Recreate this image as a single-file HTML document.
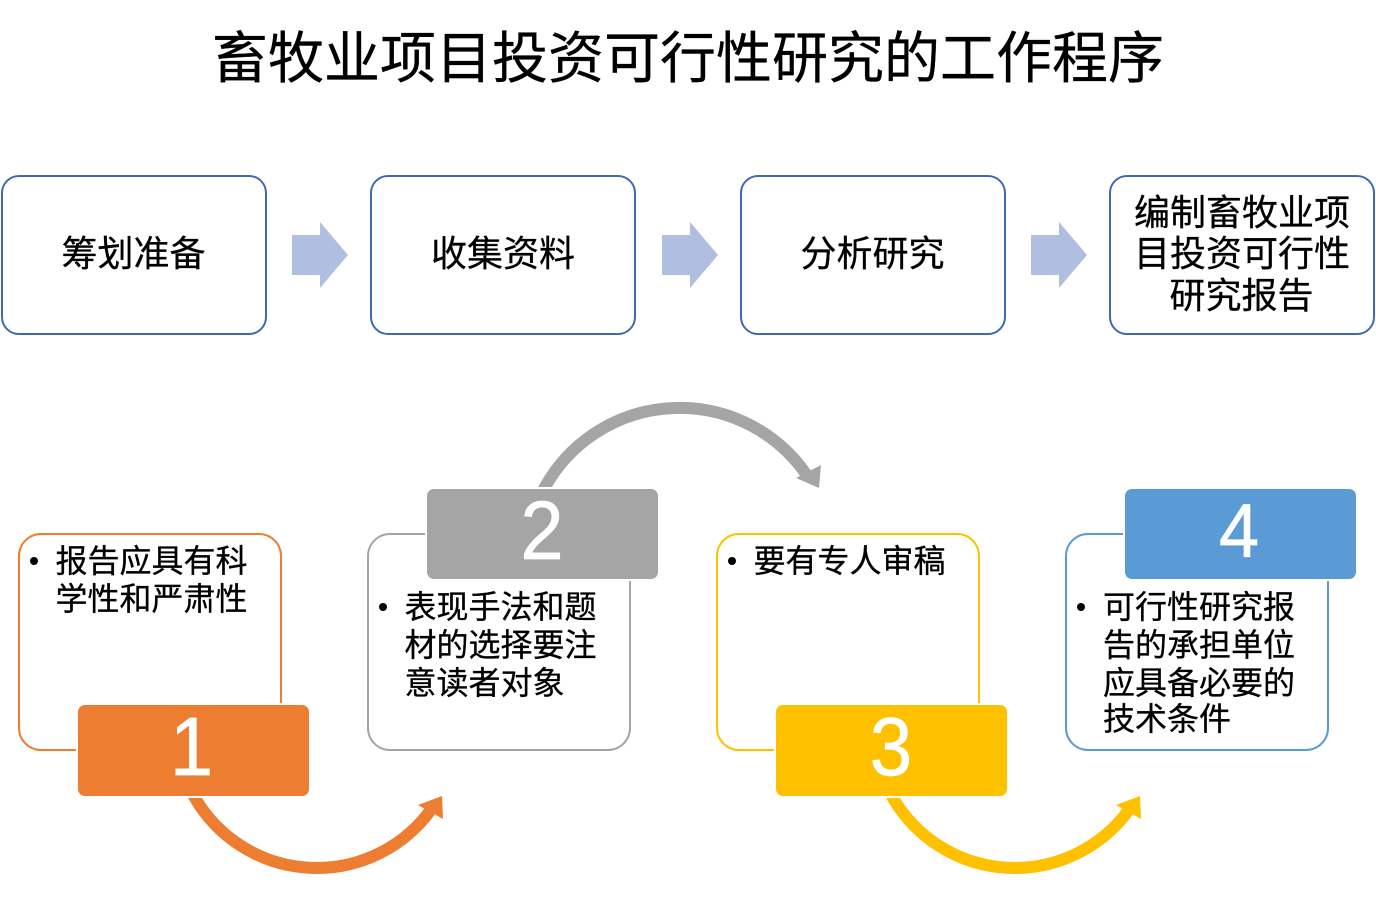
<!DOCTYPE html>
<html lang="zh">
<head>
<meta charset="utf-8">
<style>
html,body{margin:0;padding:0;background:#fff}
svg{display:block}
text{font-family:"Liberation Sans","Noto Sans CJK SC",sans-serif;fill:#000}
.t{font-size:36px;text-anchor:middle;stroke:#000;stroke-width:.3px}
.b{font-size:32px;stroke:#000;stroke-width:.3px}
.h{font-size:56px;text-anchor:middle;stroke:#000;stroke-width:.3px}
.n{font-size:72px;text-anchor:middle;fill:#fff;font-family:"Liberation Sans",sans-serif}
</style>
</head>
<body>
<svg width="1376" height="900" viewBox="0 0 1376 900" xmlns="http://www.w3.org/2000/svg">
<rect width="1376" height="900" fill="#fff"/>
<text class="h" x="688" y="78">畜牧业项目投资可行性研究的工作程序</text>

<g fill="#fff" stroke="#4069b5" stroke-width="2">
<rect x="2" y="176" width="264" height="158" rx="17"/>
<rect x="371" y="176" width="264" height="158" rx="17"/>
<rect x="741" y="176" width="264" height="158" rx="17"/>
<rect x="1110" y="176" width="264" height="158" rx="17"/>
</g>
<g fill="#b0bee0">
<polygon points="292,235 320,235 320,222 348,255 320,288 320,275 292,275"/>
<polygon points="662,235 690,235 690,222 718,255 690,288 690,275 662,275"/>
<polygon points="1031,235 1059,235 1059,222 1087,255 1059,288 1059,275 1031,275"/>
</g>
<text class="t" x="133.500" y="266">筹划准备</text>
<text class="t" x="503" y="266">收集资料</text>
<text class="t" x="872.500" y="266">分析研究</text>
<text class="t" x="1242" y="225">编制畜牧业项</text>
<text class="t" x="1242" y="266">目投资可行性</text>
<text class="t" x="1241.500" y="308">研究报告</text>

<g fill="#fff" stroke-width="2">
<rect x="19" y="534" width="262" height="216" rx="22" stroke="#ed7d31"/>
<rect x="368" y="534" width="262" height="216" rx="22" stroke="#a5a5a5"/>
<rect x="717" y="534" width="262" height="216" rx="22" stroke="#ffc000"/>
<rect x="1066" y="534" width="262" height="216" rx="22" stroke="#5b9bd5"/>
</g>

<g fill="none" stroke-width="12">
<path d="M190 788 Q192 793 195 798 A141 141 0 0 0 430 811" stroke="#ed7d31"/>
<path d="M540 496 L545 487 A154 154 0 0 1 806 474" stroke="#a5a5a5"/>
<path d="M888 788 Q890 793 893 798 A141 141 0 0 0 1128 811" stroke="#ffc000"/>
</g>
<polygon points="442,796 418,805 443,819" fill="#ed7d31"/>
<polygon points="819,488 796,478 821,465" fill="#a5a5a5"/>
<polygon points="1140,796 1116,805 1141,819" fill="#ffc000"/>

<g fill="#fff">
<rect x="76" y="703" width="235" height="95" rx="8"/>
<rect x="425" y="487" width="235" height="94" rx="8"/>
<rect x="774" y="703" width="235" height="95" rx="8"/>
<rect x="1123" y="487" width="235" height="94" rx="8"/>
</g>
<rect x="78" y="705" width="231" height="91" rx="7" fill="#ed7d31"/>
<rect x="427" y="489" width="231" height="90" rx="7" fill="#a5a5a5"/>
<rect x="776" y="705" width="231" height="91" rx="7" fill="#ffc000"/>
<rect x="1125" y="489" width="231" height="90" rx="7" fill="#5b9bd5"/>

<g stroke="#fff" stroke-width=".6">
<text class="n" transform="translate(191.500 775) scale(1.08 1.15)">1</text>
<text class="n" transform="translate(542 559) scale(1.08 1.15)">2</text>
<text class="n" transform="translate(891 775) scale(1.06 1.15)">3</text>
<text class="n" transform="translate(1239 557) scale(1 1.06)">4</text>
</g>

<g fill="#000">
<circle cx="34" cy="561" r="4"/>
<circle cx="383" cy="607" r="4"/>
<circle cx="732" cy="561" r="4"/>
<circle cx="1081" cy="607" r="4"/>
</g>
<text class="b" x="55.500" y="572">报告应具有科</text>
<text class="b" x="55.500" y="610">学性和严肃性</text>
<text class="b" x="404.500" y="618">表现手法和题</text>
<text class="b" x="404.500" y="656">材的选择要注</text>
<text class="b" x="404.500" y="694">意读者对象</text>
<text class="b" x="753.500" y="572">要有专人审稿</text>
<text class="b" x="1103" y="618">可行性研究报</text>
<text class="b" x="1103" y="656">告的承担单位</text>
<text class="b" x="1103" y="694">应具备必要的</text>
<text class="b" x="1103" y="730">技术条件</text>
</svg>
</body>
</html>
